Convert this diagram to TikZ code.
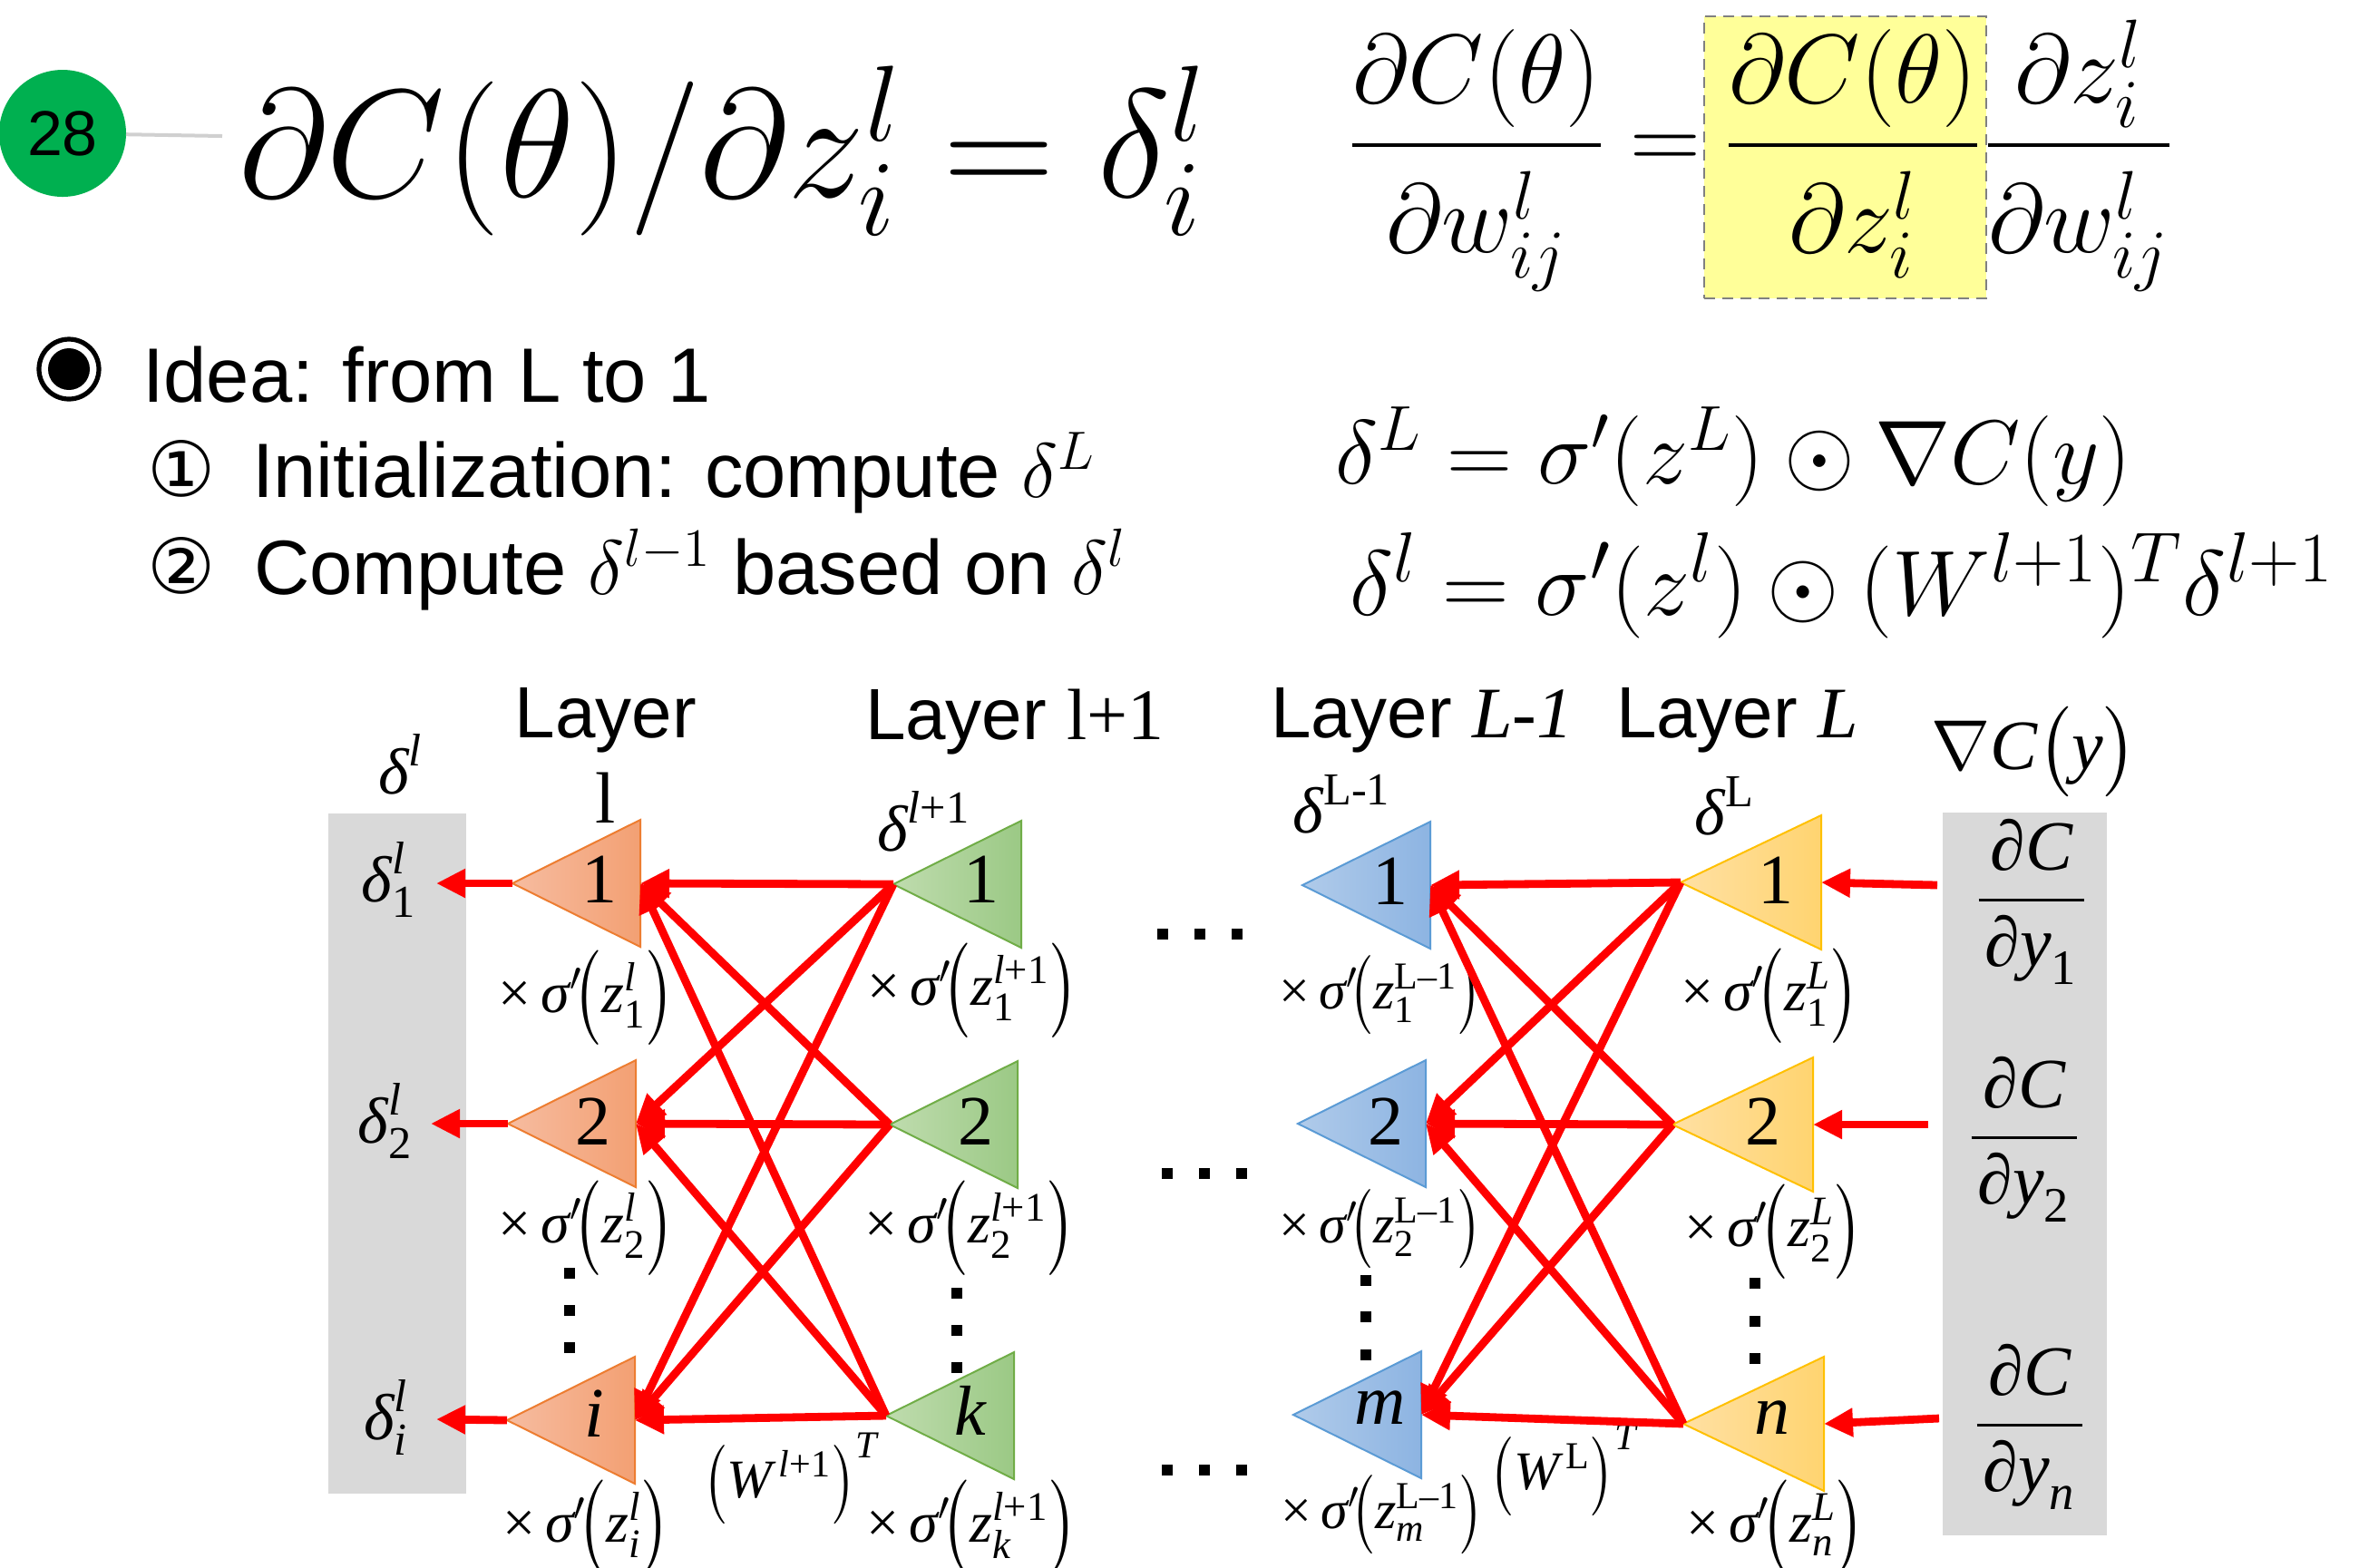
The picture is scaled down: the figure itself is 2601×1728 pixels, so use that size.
\RequirePackage{fix-cm}
\documentclass[tikz,border=0pt]{standalone}
\usepackage{amsmath}
\usepackage{graphicx}
\usepackage{fontspec}
\newfontfamily\arial{Liberation Sans}
\newfontfamily\tnr{Liberation Serif}
\newfontfamily\dvs{DejaVu Sans}
\usetikzlibrary{shapes.geometric,arrows.meta}
\DeclareMathSizes{25.5}{25.5}{19.5}{14}
\definecolor{greenc}{HTML}{00B050}
\definecolor{lineg}{HTML}{D0D0D0}
\definecolor{hlyellow}{HTML}{FFFF99}
\definecolor{greyc}{HTML}{D9D9D9}
\definecolor{oB}{HTML}{ED7D31}\definecolor{oL}{HTML}{F6BCA0}\definecolor{oD}{HTML}{F3A073}
\definecolor{gB}{HTML}{70AD47}\definecolor{gL}{HTML}{BFDCAE}\definecolor{gD}{HTML}{9BC985}
\definecolor{bB}{HTML}{5B9BD5}\definecolor{bL}{HTML}{B0CBEA}\definecolor{bD}{HTML}{8DB4E2}
\definecolor{yB}{HTML}{FFC000}\definecolor{yL}{HTML}{FFE0A3}\definecolor{yD}{HTML}{FFD470}
\newcommand\tvi[1]{\text{\itshape #1}}
\newcommand\tvu[1]{\text{\upshape #1}}
\newcommand\lpar{\mathopen{\vcenter{\hbox{\scalebox{1}[1.26]{$\bigl($}}}}}
\newcommand\rpar{\mathclose{\vcenter{\hbox{\scalebox{1}[1.26]{$\bigr)$}}}}}
\newcommand\sg[2]{$\tvu{×}\,\tvi{σ}'\!\lpar\tvi{z}_{#1}^{#2}\rpar$}
\begin{document}
\begin{tikzpicture}[x=0.25pt,y=-0.25pt,
  every node/.append style={inner sep=0pt,outer sep=0pt},
  tri/.style={isosceles triangle, isosceles triangle stretches, shape border rotate=180,
    minimum width=35pt, minimum height=35.25pt, line width=0.5pt, anchor=lower side},
  otri/.style={tri, draw=oB, left color=oL, right color=oD},
  gtri/.style={tri, draw=gB, left color=gL, right color=gD},
  btri/.style={tri, draw=bB, left color=bL, right color=bD},
  ytri/.style={tri, draw=yB, left color=yL, right color=yD, minimum width=37pt, minimum height=38.75pt},
  tnum/.style={font=\tnr\fontsize{19.5}{22}\selectfont},
  sig/.style={font=\tnr\fontsize{16}{18}\selectfont},
  sigb/.style={font=\tnr\fontsize{15}{17}\selectfont},
  dlab/.style={font=\tnr\fontsize{18}{21}\selectfont},
  layer/.style={font=\arial\fontsize{20}{23.5}\selectfont, anchor=base west},
  txt/.style={font=\arial\fontsize{21.25}{25}\selectfont, anchor=base west},
  circnum/.style={font=\dvs\fontsize{21}{25}\selectfont},
  wire/.style={draw=red, line width=2.2pt, -{Triangle[length=8pt,width=7.5pt]}},
  greybox/.style={rectangle, fill=greyc},
  bigfrac/.style={font=\fontsize{27}{32}\selectfont, anchor=base}
]
\useasboundingbox (0,0) rectangle (2601,1728);

% ---------- header ----------
\node[circle, fill=greenc, minimum size=35pt, font=\arial\fontsize{17.5}{20}\selectfont] (num) at (69,147) {28};
\coordinate (numline) at (245,150);
\draw[lineg, line width=1pt] (num) -- (numline);
\node[font=\fontsize{42.5}{50}\selectfont, anchor=base west] (big) at (263,217)
  {$\partial C(\theta)/\partial z_i^l=\delta_i^l$};

\node[rectangle, fill=hlyellow, draw=gray, densely dashed, line width=0.4pt,
  minimum width=77.75pt, minimum height=77.75pt] (hl) at (2034.5,173.5) {};
\node[bigfrac] (f1) at (1628,187)
  {$\dfrac{\partial C(\theta)}{\rule{0pt}{0.97em}\partial w_{ij}^l}$};
\node[bigfrac] (eqs) at (1836,187) {$=$};
\node[bigfrac] (f2) at (2043,187)
  {$\dfrac{\partial C(\theta)}{\rule{0pt}{0.97em}\partial z_i^l}$};
\node[bigfrac] (f3) at (2292,187)
  {$\dfrac{\partial z_i^l}{\rule{0pt}{0.97em}\partial w_{ij}^l}$};

% ---------- bullet list ----------
\node[circle, draw=black, line width=1.3pt, minimum size=16.5pt] (bul) at (76,407) {};
\node[circle, fill=black, minimum size=11.5pt] (buldot) at (bul.center) {};
\node[txt] (idea) at (157,443) {Idea: from L to 1};
\node[circnum] (c1) at (200,517) {①};
\node[txt] (init) at (278,548) {Initialization: compute $\delta^L$};
\node[circnum] (c2) at (200,624) {②};
\node[txt] (comp) at (280,655) {Compute $\delta^{l-1}$ based on $\delta^l$};

\node[font=\fontsize{25}{30}\selectfont, anchor=base west] (eq1) at (1472,533)
  {$\delta^L=\sigma'(z^L)\odot\nabla C(y)$};
\node[font=\fontsize{25.5}{30}\selectfont, anchor=base west] (eq2) at (1488,678)
  {$\delta^l=\sigma'(z^l)\odot(W^{l+1})^T\delta^{l+1}$};

% ---------- grey columns ----------
\node[greybox, minimum width=38pt, minimum height=187.5pt] (gl) at (438,1272) {};
\node[greybox, minimum width=45.25pt, minimum height=199.25pt] (gr) at (2232.5,1294.5) {};

% ---------- layer titles ----------
\node[font=\arial\fontsize{20}{23.5}\selectfont, align=center, anchor=north] (lay1) at (668,758) {Layer\\{\tnr l}};
\node[layer] (lay2) at (954,815) {Layer {\tnr l+1}};
\node[layer] (lay3) at (1401,813) {Layer {\tnr\itshape L-1}};
\node[layer] (lay4) at (1782,813) {Layer {\tnr\itshape L}};

\node[dlab] (dl) at (442,843) {$\tvi{δ}^{\tvi{l}}$};
\node[dlab] (dl1) at (1019,906) {$\tvi{δ}^{\tvi{l}\tvu{+1}}$};
\node[dlab] (dL1) at (1480,887) {$\tvi{δ}^{\tvu{L-1}}$};
\node[dlab] (dL) at (1902,889) {$\tvi{δ}^{\tvu{L}}$};
\node[font=\tnr\fontsize{19.5}{22}\selectfont] (nab) at (2243,829) {$\nabla\tvi{C}\bigl(\tvi{y}\bigr)$};

% ---------- triangles ----------
\node[otri] (o1) at (706,974) {};
\node[otri] (o2) at (701,1239) {};
\node[otri] (o3) at (700,1566) {};
\node[gtri] (g1) at (1126,975) {};
\node[gtri] (g2) at (1122,1240) {};
\node[gtri] (g3) at (1118,1561) {};
\node[btri] (b1) at (1577,976) {};
\node[btri] (b2) at (1572,1239) {};
\node[btri] (b3) at (1567,1560) {};
\node[ytri] (y1) at (2008,973) {};
\node[ytri] (y2) at (1999,1240) {};
\node[ytri] (y3) at (2011,1570) {};

\node[tnum] (o1t) at (661,970) {1};
\node[tnum] (o2t) at (654,1237) {2};
\node[tnum] (o3t) at (655,1559) {\itshape i};
\node[tnum] (g1t) at (1082,970) {1};
\node[tnum] (g2t) at (1076,1237) {2};
\node[tnum] (g3t) at (1070,1555) {\itshape k};
\node[tnum] (b1t) at (1533,972) {1};
\node[tnum] (b2t) at (1528,1237) {2};
\node[tnum] (b3t) at (1522,1552) {\itshape m};
\node[tnum] (y1t) at (1958,971) {1};
\node[tnum] (y2t) at (1944,1237) {2};
\node[tnum] (y3t) at (1954,1563) {\itshape n};

% ---------- left column deltas ----------
\node[dlab] (d1) at (429,970) {$\tvi{δ}_{\tvu{1}}^{\tvi{l}}$};
\node[dlab] (d2) at (425,1236) {$\tvi{δ}_{\tvu{2}}^{\tvi{l}}$};
\node[dlab] (d3) at (426,1563) {$\tvi{δ}_{\tvi{i}}^{\tvi{l}}$};

% ---------- right column gradients ----------
\node[font=\tnr\fontsize{19.5}{22}\selectfont, anchor=base] (p1) at (2240,1012)
  {$\dfrac{\,\tvu{∂}\tvi{C}\,}{\tvu{∂}\tvi{y}_{\tvu{1}}}$};
\node[font=\tnr\fontsize{19.5}{22}\selectfont, anchor=base] (p2) at (2232,1274)
  {$\dfrac{\,\tvu{∂}\tvi{C}\,}{\tvu{∂}\tvi{y}_{\tvu{2}}}$};
\node[font=\tnr\fontsize{19.5}{22}\selectfont, anchor=base] (p3) at (2238,1591)
  {$\dfrac{\,\tvu{∂}\tvi{C}\,}{\tvu{∂}\tvi{y}_{\tvi{n}}}$};

% ---------- sigma labels ----------
\node[sig] (so1) at (647,1100) {\sg{\tvu{1}}{\tvi{l}}};
\node[sig] (so2) at (647,1354) {\sg{\tvu{2}}{\tvi{l}}};
\node[sig] (so3) at (647,1684) {\sg{\tvi{i}}{\tvi{l}}};
\node[sig] (sg1) at (1073,1092) {\sg{\tvu{1}}{\tvi{l}\tvu{+1}}};
\node[sig] (sg2) at (1070,1354) {\sg{\tvu{2}}{\tvi{l}\tvu{+1}}};
\node[sig] (sg3) at (1072,1684) {\sg{\tvi{k}}{\tvi{l}\tvu{+1}}};
\node[sigb] (sb1) at (1522,1097) {\sg{\tvu{1}}{\tvu{L–1}}};
\node[sigb] (sb2) at (1522,1355) {\sg{\tvu{2}}{\tvu{L–1}}};
\node[sigb] (sb3) at (1524,1670) {\sg{\tvi{m}}{\tvu{L–1}}};
\node[sig] (sy1) at (1952,1098) {\sg{\tvu{1}}{\tvi{L}}};
\node[sig] (sy2) at (1956,1358) {\sg{\tvu{2}}{\tvi{L}}};
\node[sig] (sy3) at (1958,1684) {\sg{\tvi{n}}{\tvi{L}}};

\node[font=\tnr\fontsize{15}{18}\selectfont] (w1) at (872,1631) {$\lpar\tvi{W}^{\,\tvi{l}\tvu{+1}}\rpar^{\tvi{T}}$};
\node[font=\tnr\fontsize{15}{18}\selectfont] (w2) at (1724,1622) {$\lpar\tvi{W}^{\,\tvu{L}}\rpar^{\tvi{T}}$};

% ---------- connectors ----------
\foreach \s in {g1,g2,g3}{\foreach \t in {o1,o2,o3}{\draw[wire] (\s.apex) -- (\t.lower side);}}
\foreach \s in {y1,y2,y3}{\foreach \t in {b1,b2,b3}{\draw[wire] (\s.apex) -- (\t.lower side);}}
\coordinate (la1) at (481,974);
\coordinate (la2) at (475,1239);
\coordinate (la3) at (481,1565);
\draw[wire] (o1.apex) -- (la1);
\draw[wire] (o2.apex) -- (la2);
\draw[wire] (o3.apex) -- (la3);
\coordinate (ra1) at (2136,976);
\coordinate (ra2) at (2126,1240);
\coordinate (ra3) at (2138,1564);
\draw[wire] (ra1) -- (y1.lower side);
\draw[wire] (ra2) -- (y2.lower side);
\draw[wire] (ra3) -- (y3.lower side);

% ---------- ellipsis dots ----------
\foreach \x in {1282,1323,1364}{\fill (\x-6,1024) rectangle ++(12,12);}
\foreach \x in {1287,1328,1369}{\fill (\x-6,1288) rectangle ++(12,12); \fill (\x-6,1615) rectangle ++(12,12);}
\foreach \y in {1404,1445,1486}{\fill (622,\y-6) rectangle ++(12,12);}
\foreach \y in {1426,1467,1508}{\fill (1049,\y-6) rectangle ++(12,12);}
\foreach \y in {1412,1452,1494}{\fill (1500,\y-6) rectangle ++(12,12);}
\foreach \y in {1415,1457,1498}{\fill (1929,\y-6) rectangle ++(12,12);}
\end{tikzpicture}
\end{document}
